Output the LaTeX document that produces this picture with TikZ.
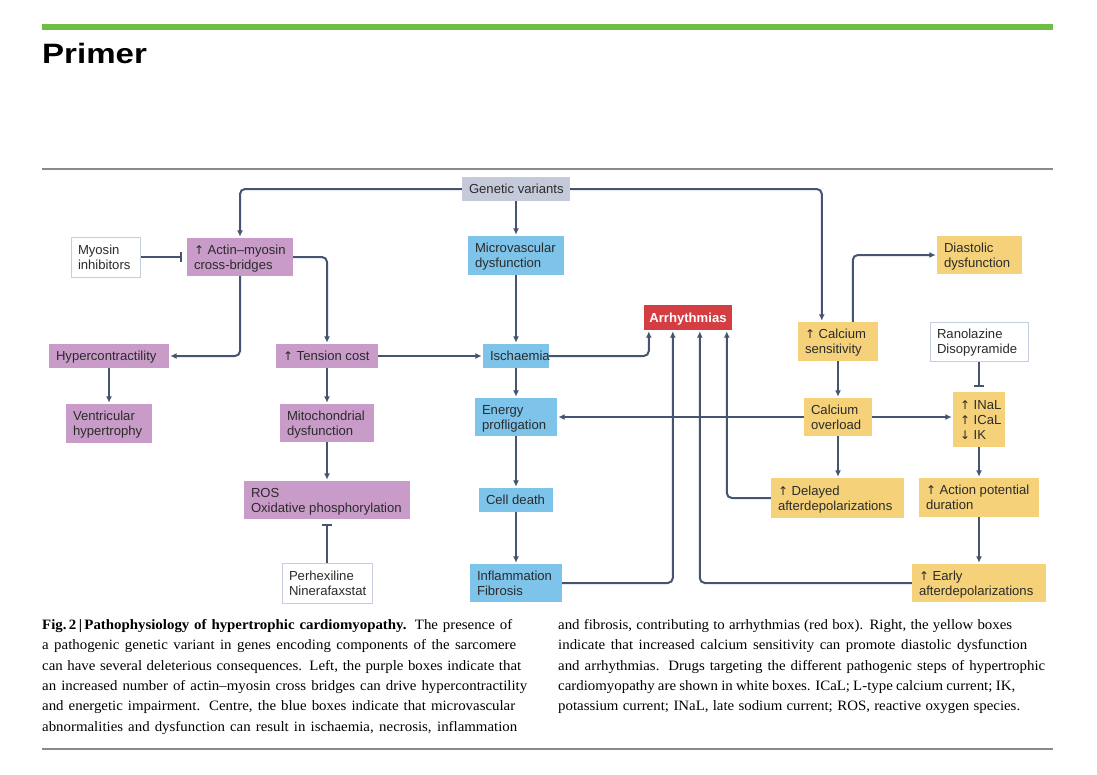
\documentclass[tikz,border=0pt]{standalone}
\usepackage{fontspec}
\setmainfont{Liberation Serif}[FakeStretch=1.04]
\newfontfamily\diagfont{Liberation Sans}
\newfontfamily\arrfont{DejaVu Sans}
\usetikzlibrary{arrows.meta}
\definecolor{cpurple}{HTML}{C99BC9}
\definecolor{cblue}{HTML}{7DC3EA}
\definecolor{cyellow}{HTML}{F5D27A}
\definecolor{cred}{HTML}{D43D42}
\definecolor{cgv}{HTML}{C5CADB}
\definecolor{cwborder}{HTML}{C5CDE0}
\definecolor{cline}{HTML}{45556F}
\definecolor{ctext}{HTML}{2B2B2B}
\definecolor{cgreen}{HTML}{6DBE45}
\definecolor{crule}{HTML}{8A8A8A}
\newcommand\upar{{\arrfont\fontsize{12}{12}\selectfont ↑}\ }
\newcommand\dnar{{\arrfont\fontsize{12}{12}\selectfont ↓}\ }
\newcommand\mybox[8][l]{%
  \pgfmathsetmacro\bcx{(#4+#6)/2}%
  \pgfmathsetmacro\bcy{(#5+#7)/2}%
  \pgfmathsetmacro\btw{#6-#4-14}%
  \pgfmathsetmacro\bw{#6-#4}%
  \pgfmathsetmacro\bh{#7-#5}%
  \node[bx,#3,minimum width=\bw pt,minimum height=\bh pt] (#2) at (\bcx,\bcy)
    {\makebox[\btw pt][#1]{\raisebox{-1.5pt}[\height][\depth]{\begin{tabular}{@{}l@{}}#8\end{tabular}}}};}
\tikzset{
  bx/.style={inner xsep=7pt, inner ysep=0pt, text=ctext,
    font=\diagfont\fontsize{13.1}{15}\selectfont},
  pbox/.style={fill=cpurple},
  bbox/.style={fill=cblue},
  ybox/.style={fill=cyellow},
  gbox/.style={fill=cgv},
  wbox/.style={fill=white, draw=cwborder, line width=1pt},
  rbox/.style={fill=cred, text=white, font=\diagfont\bfseries\fontsize{13.1}{15}\selectfont},
  conn/.style={draw=cline, line width=2pt, rounded corners=5pt,
    -{Latex[length=6.5pt,width=6pt]}, shorten >=1pt},
  inhib/.style={draw=cline, line width=2pt, -{Bar[width=10pt,line width=2pt]}, shorten >=5pt},
  captxt/.style={anchor=base west, inner sep=0pt, text=black, font=\fontsize{14.3}{16}\selectfont},
}
\begin{document}
\begin{tikzpicture}[x=1pt,y=-1pt]
\useasboundingbox[fill=white] (0,0) rectangle (1097,774);
% header
\fill[cgreen] (42,24) rectangle (1053,30);
\node[anchor=base west, inner sep=0pt] (title) at (42,63) {\scalebox{1.18}[1]{\diagfont\bfseries\fontsize{28}{30}\selectfont Primer}};
\draw[crule, line width=1.2pt] (42,169) -- (1053,169);
\draw[crule, line width=1.2pt] (42,749) -- (1053,749);
% boxes
\mybox{gv}{gbox}{462}{177}{570}{201}{Genetic variants}
\mybox{micro}{bbox}{468}{236}{564}{275}{Microvascular\\dysfunction}
\mybox{myo}{wbox}{71}{237}{140}{277}{Myosin\\inhibitors}
\mybox{actin}{pbox}{187}{238}{293}{276}{\upar Actin–myosin\\cross-bridges}
\mybox{diast}{ybox}{937}{236}{1022}{274}{Diastolic\\dysfunction}
\mybox[c]{arr}{rbox}{644}{305}{732}{330}{Arrhythmias}
\mybox{casens}{ybox}{798}{322}{878}{361}{\upar Calcium\\sensitivity}
\mybox{ranol}{wbox}{930}{322}{1028}{361}{Ranolazine\\Disopyramide}
\mybox{hyper}{pbox}{49}{344}{169}{368}{Hypercontractility}
\mybox{tension}{pbox}{276}{344}{378}{368}{\upar Tension cost}
\mybox{isch}{bbox}{483}{344}{549}{368}{Ischaemia}
\mybox{ventr}{pbox}{66}{404}{152}{443}{Ventricular\\hypertrophy}
\mybox{mito}{pbox}{280}{404}{374}{442}{Mitochondrial\\dysfunction}
\mybox{energy}{bbox}{475}{398}{557}{436}{Energy\\profligation}
\mybox{caover}{ybox}{804}{398}{872}{436}{Calcium\\overload}
\mybox{inal}{ybox}{953}{392}{1005}{447}{\upar INaL\\\upar ICaL\\\dnar IK}
\mybox{ros}{pbox}{244}{481}{410}{519}{ROS\\Oxidative phosphorylation}
\mybox{celld}{bbox}{479}{488}{553}{512}{Cell death}
\mybox{delayed}{ybox}{771}{478}{904}{518}{\upar Delayed\\afterdepolarizations}
\mybox{apd}{ybox}{919}{478}{1039}{517}{\upar Action potential\\duration}
\mybox{perh}{wbox}{282}{563}{372}{603}{Perhexiline\\Ninerafaxstat}
\mybox{infl}{bbox}{470}{564}{562}{602}{Inflammation\\Fibrosis}
\mybox{early}{ybox}{912}{564}{1046}{602}{\upar Early\\afterdepolarizations}
% connectors
\draw[conn] (gv.west) -| (actin.north);
\draw[conn] (gv.south) -- (gv.south |- micro.north);
\draw[conn] (gv.east) -| ([xshift=24pt]casens.north west);
\draw[inhib] (myo.east) -- (myo.east -| actin.west);
\draw[conn] (actin.east) -| (tension.north);
\draw[conn] (actin.south) |- (hyper.east);
\draw[conn] (hyper.south) -- (hyper.south |- ventr.north);
\draw[conn] (tension.east) -- (tension.east -| isch.west);
\draw[conn] (tension.south) -- (tension.south |- mito.north);
\draw[conn] (mito.south) -- (mito.south |- ros.north);
\draw[inhib] (perh.north) -- (perh.north |- ros.south);
\draw[conn] (micro.south) -- (micro.south |- isch.north);
\draw[conn] (isch.east) -| ([xshift=5pt]arr.south west);
\draw[conn] (isch.south) -- (isch.south |- energy.north);
\draw[conn] (energy.south) -- (energy.south |- celld.north);
\draw[conn] (celld.south) -- (celld.south |- infl.north);
\draw[conn] (infl.east) -| ([xshift=29pt]arr.south west);
\draw[conn] (early.west) -| ([xshift=56pt]arr.south west);
\draw[conn] (delayed.west) -| ([xshift=83pt]arr.south west);
\draw[conn] (caover.west) -- (caover.west -| energy.east);
\draw[conn] (caover.east) -- (caover.east -| inal.west);
\draw[conn] (casens.south -| caover.north) -- (caover.north);
\draw[conn] ([xshift=55pt]casens.north west) |- (diast.west);
\draw[conn] (caover.south) -- (caover.south |- delayed.north);
\draw[inhib] (ranol.south) -- (ranol.south |- inal.north);
\draw[conn] (inal.south) -- (inal.south |- apd.north);
\draw[conn] (apd.south) -- (apd.south |- early.north);
% caption
\node[captxt] (c1) at (42,629) {\makebox[470pt][s]{\textbf{Fig.\,2\,|\,Pathophysiology of hypertrophic cardiomyopathy.} The presence of}};
\node[captxt] (c2) at (42,649.5) {\makebox[474pt][s]{a pathogenic genetic variant in genes encoding components of the sarcomere}};
\node[captxt] (c3) at (42,670) {\makebox[479pt][s]{can have several deleterious consequences. Left, the purple boxes indicate that}};
\node[captxt] (c4) at (42,690) {\makebox[485pt][s]{an increased number of actin–myosin cross bridges can drive hypercontractility}};
\node[captxt] (c5) at (42,710.5) {\makebox[473pt][s]{and energetic impairment. Centre, the blue boxes indicate that microvascular}};
\node[captxt] (c6) at (42,731) {\makebox[475pt][s]{abnormalities and dysfunction can result in ischaemia, necrosis, inflammation}};
\node[captxt] (d1) at (558,629) {\makebox[454pt][s]{and fibrosis, contributing to arrhythmias (red box). Right, the yellow boxes}};
\node[captxt] (d2) at (558,649.5) {\makebox[469pt][s]{indicate that increased calcium sensitivity can promote diastolic dysfunction}};
\node[captxt] (d3) at (558,670) {\makebox[487pt][s]{and arrhythmias. Drugs targeting the different pathogenic steps of hypertrophic}};
\node[captxt] (d4) at (558,690) {\makebox[457pt][s]{cardiomyopathy are shown in white boxes. ICaL; L-type calcium current; IK,}};
\node[captxt] (d5) at (558,710.5) {\makebox[462pt][s]{potassium current; INaL, late sodium current; ROS, reactive oxygen species.}};
\end{tikzpicture}
\end{document}
